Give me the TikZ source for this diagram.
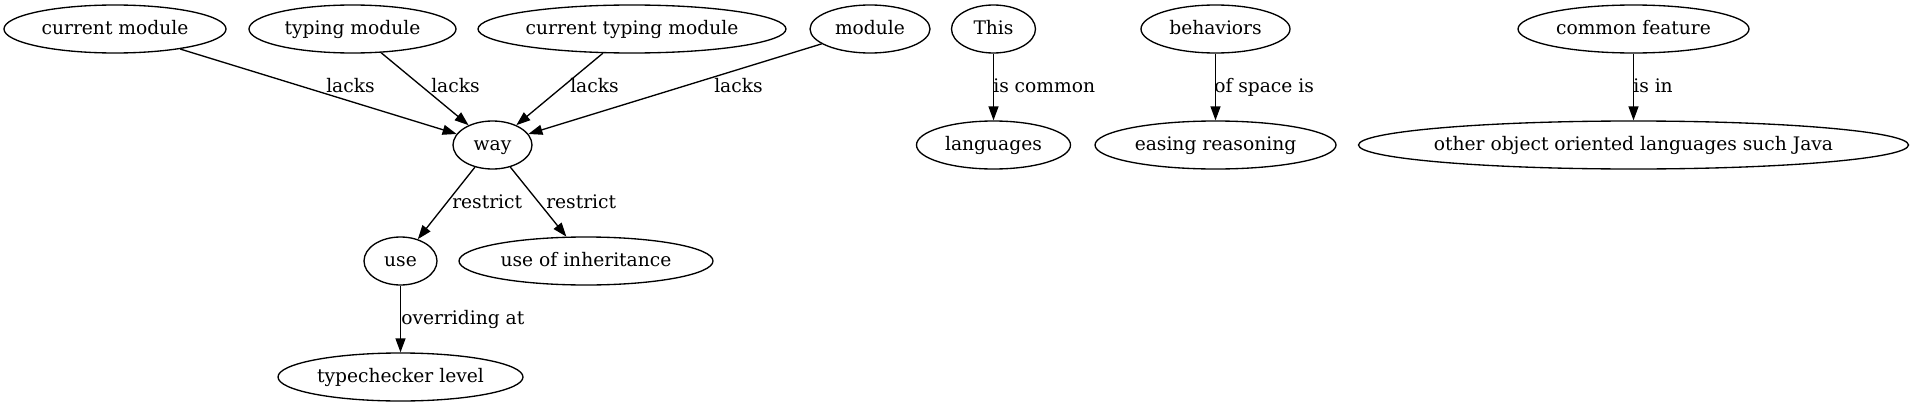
\documentclass[tikz,border=0pt]{standalone}
\usepackage{fontspec}
\setmainfont{DejaVu Serif}
\usetikzlibrary{shapes.geometric,arrows.meta}
\newcommand\gvt[1]{\makebox[0pt][c]{#1}}
\begin{document}
\begin{tikzpicture}[x=0.75pt,y=-0.75pt,
  gvnode/.style={draw,ellipse,inner sep=0pt,minimum height=36pt,line width=1pt,
    font=\fontsize{14}{16}\selectfont,text height=10pt,text depth=2pt},
  gvlabel/.style={inner sep=0pt,anchor=base west,font=\fontsize{14}{16}\selectfont},
  gvedge/.style={draw,line width=1pt,-{Triangle[length=10.5pt,width=7.5pt]}}]
\useasboundingbox (0,0) rectangle (1914,407);
\node[gvnode,minimum width=166.5pt] (cm) at (115,29) {\gvt{current module}};
\node[gvnode,minimum width=155.25pt] (tm) at (352.5,29) {\gvt{typing module}};
\node[gvnode,minimum width=231pt] (ctm) at (632,29) {\gvt{current typing module}};
\node[gvnode,minimum width=90pt] (mod) at (870,29) {\gvt{module}};
\node[gvnode,minimum width=63pt] (this) at (993.5,29) {\gvt{This}};
\node[gvnode,minimum width=111.75pt] (beh) at (1215.5,29) {\gvt{behaviors}};
\node[gvnode,minimum width=173.25pt] (cf) at (1633.5,29) {\gvt{common feature}};
\node[gvnode,minimum width=59.25pt] (way) at (492.5,145) {\gvt{way}};
\node[gvnode,minimum width=115.5pt] (lang) at (993.5,145) {\gvt{languages}};
\node[gvnode,minimum width=180.75pt] (ease) at (1215.5,145) {\gvt{easing reasoning}};
\node[gvnode,minimum width=412.5pt] (other) at (1633.5,145) {\gvt{other object oriented languages such Java}};
\node[gvnode,minimum width=54.75pt] (use) at (400.5,261) {\gvt{use}};
\node[gvnode,minimum width=190.5pt] (uoi) at (586,261) {\gvt{use of inheritance}};
\node[gvnode,minimum width=183.75pt] (tl) at (400.5,377) {\gvt{typechecker level}};

\path[gvedge] (cm) -- (way);
\path[gvedge] (tm) -- (way);
\path[gvedge] (ctm) -- (way);
\path[gvedge] (mod) -- (way);
\path[gvedge] (this) -- (lang);
\path[gvedge] (beh) -- (ease);
\path[gvedge] (cf) -- (other);
\path[gvedge] (way) -- (use);
\path[gvedge] (way) -- (uoi);
\path[gvedge] (use) -- (tl);

\node[gvlabel] (l1) at (326,92) {lacks};
\node[gvlabel] (l2) at (431,92) {lacks};
\node[gvlabel] (l3) at (570,92) {lacks};
\node[gvlabel] (l4) at (714,92) {lacks};
\node[gvlabel] (l5) at (993,92) {is common};
\node[gvlabel] (l6) at (1214,92) {of space is};
\node[gvlabel] (l7) at (1633,92) {is in};
\node[gvlabel] (l8) at (452,208) {restrict};
\node[gvlabel] (l9) at (546,208) {restrict};
\node[gvlabel] (l10) at (401,324) {overriding at};
\end{tikzpicture}
\end{document}
